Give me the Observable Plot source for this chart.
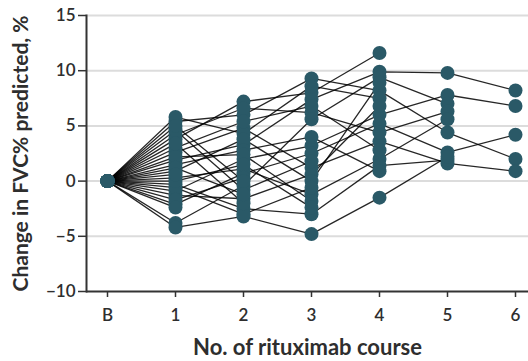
<!DOCTYPE html>
<html>
<head>
<meta charset="utf-8">
<script src="https://cdn.jsdelivr.net/npm/d3@7"></script>
<script src="https://cdn.jsdelivr.net/npm/@observablehq/plot@0.6"></script>
<style>
  html, body { margin: 0; padding: 0; background: #fff; }
  #chart { width: 528px; height: 361px; }
</style>
</head>
<body>
<div id="chart"></div>
<script>
// Course labels along the x axis (B = baseline)
const courses = ["B", "1", "2", "3", "4", "5", "6"];
const yTicks = [-10, -5, 0, 5, 10, 15];

// Change in FVC% predicted per patient (index = patient), null = no further course
const baseline = [0, 0, 0, 0, 0, 0, 0, 0, 0, 0, 0, 0, 0, 0, 0, 0, 0, 0, 0, 0, 0, 0, 0, 0, 0, 0];
const course1 = [1.9, 3.8, -0.9, 5.4, -2.1, 2.6, -3.8, 4.2, 0.3, 5.8, -1.3, 0.9, 3.0, -0.3, 1.5, -4.2, 4.6, 2.2, -0.6, 0.0, 3.4, -1.7, 1.2, 5.0, 0.6, -2.4];
const course2 = [3.3, 7.2, 2.0, 6.0, 0.7, 4.8, -0.4, 6.6, 1.1, 4.3, -1.6, 3.8, 5.4, -2.5, 2.8, -3.2, -0.8, 2.4, -3.0, 1.5, -2.0, 0.3, -1.2, 0.0, null, null];
const course3 = [7.4, 8.0, 3.2, 9.3, 2.5, 1.2, 5.6, 6.2, -1.2, 8.6, 0.6, 0.0, 6.8, -3.0, 4.0, -4.8, 1.8, -1.8, -0.6, -2.4, null, null, null, null, null, null];
const course4 = [9.9, 11.6, 6.0, 8.2, 5.2, 3.6, 9.4, 4.4, 2.0, 7.5, 6.8, 8.9, 2.8, 1.4, 0.9, -1.5, null, null, null, null, null, null, null, null, null, null];
const course5 = [9.8, null, 7.8, 4.4, 2.6, 1.6, 7.0, 6.3, 5.6, null, null, null, null, 1.9, null, 2.2, null, null, null, null, null, null, null, null, null, null];
const course6 = [8.2, null, 6.8, 2.0, 4.2, 0.9, null, null, null, null, null, null, null, null, null, null, null, null, null, null, null, null, null, null, null, null];

const series = [baseline, course1, course2, course3, course4, course5, course6];

// Long table: one row per patient per course attended
const rows = [];
series.forEach((values, ci) => {
  values.forEach((v, p) => {
    if (v != null) rows.push({patient: p, course: courses[ci], value: v});
  });
});

const ink = "#2e2e2e";
const font = "Lato, sans-serif";

const chart = Plot.plot({
  width: 528,
  height: 361,
  marginLeft: 86,
  marginRight: 0,
  marginTop: 15,
  marginBottom: 70,
  style: {fontFamily: font, fontSize: "17px", color: ink, background: "#fff", overflow: "visible"},
  x: {type: "point", domain: courses, range: [105, 517], padding: 0},
  y: {domain: [-10, 15]},
  marks: [
    // horizontal reference lines
    Plot.ruleY(yTicks.filter(d => d > -10), {stroke: "#dcdcdc", strokeWidth: 2}),
    // axis lines
    Plot.ruleY([-10], {stroke: "#333", strokeWidth: 2}),
    Plot.frame({anchor: "left", stroke: "#333", strokeWidth: 2}),
    Plot.axisX({tickSize: 6, tickPadding: 11, label: null, stroke: "#333", strokeWidth: 1.5, fontWeight: 600}),
    Plot.axisY({ticks: yTicks, tickSize: 8, tickPadding: 3, label: null, stroke: "#333", strokeWidth: 1.5, fontWeight: 600}),
    // patient trajectories
    Plot.line(rows, {x: "course", y: "value", z: "patient", stroke: "#000", strokeWidth: 1.3, strokeOpacity: 0.85}),
    Plot.dot(rows, {x: "course", y: "value", r: 7, fill: "#2a5967", stroke: "none"}),
    // axis titles
    Plot.axisX({ticks: [], tickSize: 0, label: "No. of rituximab course", labelAnchor: "center", labelArrow: "none", labelOffset: 63, fontSize: 22, fontWeight: "bold"}),
    Plot.axisY({ticks: [], tickSize: 0, label: "Change in FVC% predicted, %", labelAnchor: "center", labelArrow: "none", labelOffset: 73, fontSize: 21, fontWeight: "bold"})
  ]
});

document.getElementById("chart").appendChild(chart);
</script>
</body>
</html>
